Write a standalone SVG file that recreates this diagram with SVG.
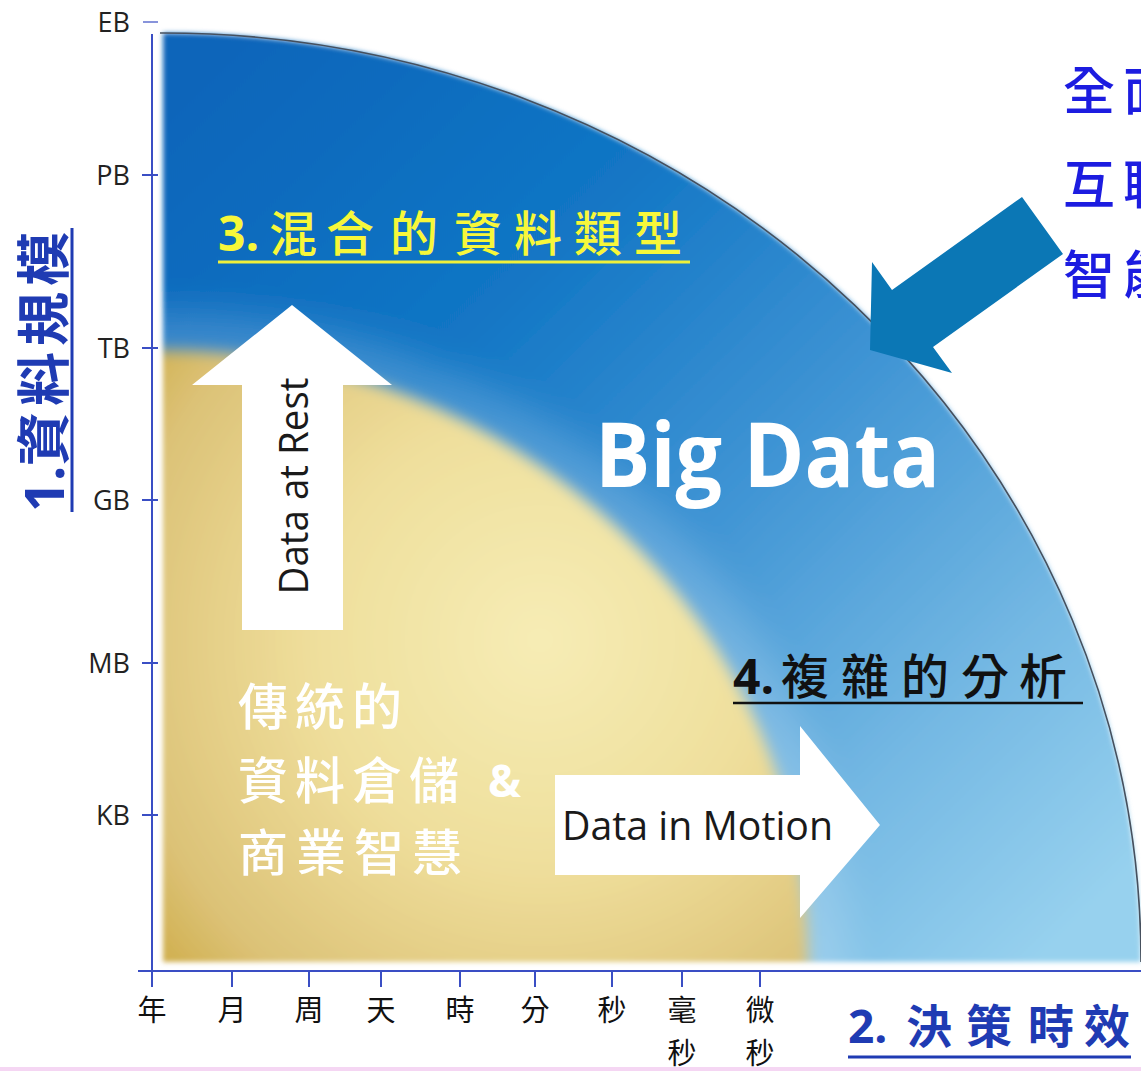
<svg xmlns="http://www.w3.org/2000/svg" width="1141" height="1071" viewBox="0 0 1141 1071">
<style>
.ax{stroke:#3a4ec4;stroke-width:2;fill:none}
.tk{stroke:#3a4ec4;stroke-width:2}
.yl{font-family:"Open Sans","Liberation Sans",sans-serif;font-size:27px;fill:#222;text-anchor:end}
.xl{font-family:"Noto Sans CJK TC","Noto Sans CJK SC",sans-serif;font-size:29px;fill:#111;text-anchor:middle}
.cjk{font-family:"Noto Sans CJK TC","Noto Sans CJK SC",sans-serif}
.num{font-family:"Open Sans","Liberation Sans",sans-serif;font-weight:bold}
.en{font-family:"Open Sans","Liberation Sans",sans-serif}
</style>
<defs>
<linearGradient id="blueG" gradientUnits="userSpaceOnUse" x1="200" y1="80" x2="1050" y2="950">
<stop offset="0" stop-color="#0865ba"/>
<stop offset="0.3" stop-color="#1276c5"/>
<stop offset="0.55" stop-color="#3f94d4"/>
<stop offset="0.8" stop-color="#74b8e3"/>
<stop offset="1" stop-color="#97d1ee"/>
</linearGradient>
<radialGradient id="goldG" gradientUnits="userSpaceOnUse" cx="540" cy="640" r="560">
<stop offset="0" stop-color="#f6ecb5"/>
<stop offset="0.4" stop-color="#efdf9c"/>
<stop offset="0.75" stop-color="#dcc277"/>
<stop offset="1" stop-color="#c69f2c"/>
</radialGradient>
<clipPath id="regionClip">
<path d="M163,962 L163,33 A978,929 0 0 1 1141,962 Z"/>
</clipPath>
<filter id="softEdge" x="-5%" y="-5%" width="110%" height="110%">
<feGaussianBlur stdDeviation="2.5"/>
</filter>
<filter id="bigBlur" x="-20%" y="-20%" width="140%" height="140%">
<feGaussianBlur stdDeviation="7"/>
</filter>
<filter id="haloBlur" x="-20%" y="-20%" width="140%" height="140%">
<feGaussianBlur stdDeviation="20"/>
</filter>
</defs>

<rect x="0" y="0" width="1141" height="1071" fill="#ffffff"/>

<g id="region" filter="url(#softEdge)">
<g clip-path="url(#regionClip)">
<rect x="150" y="20" width="1000" height="960" fill="url(#blueG)"/>
<ellipse cx="163" cy="962" rx="685" ry="650" fill="#ffffff" opacity="0.2" filter="url(#haloBlur)"/>
<ellipse cx="163" cy="962" rx="645" ry="612" fill="url(#goldG)" filter="url(#bigBlur)"/>
</g>
</g>
<path id="region-outline" d="M160,33 L163,33 A978,929 0 0 1 1141,962" fill="none" stroke="#46505e" stroke-width="1.6"/>

<g id="axes">
<line class="ax" x1="152" y1="34" x2="152" y2="987"/>
<line class="ax" x1="138" y1="971" x2="1141" y2="971"/>
<line class="tk" x1="143" y1="22" x2="158" y2="22" opacity="0.6"/>
<line class="tk" x1="142" y1="175" x2="158" y2="175"/>
<line class="tk" x1="142" y1="348" x2="158" y2="348"/>
<line class="tk" x1="142" y1="500" x2="158" y2="500"/>
<line class="tk" x1="142" y1="663" x2="158" y2="663"/>
<line class="tk" x1="142" y1="815" x2="158" y2="815"/>
<line class="tk" x1="232" y1="971" x2="232" y2="987"/>
<line class="tk" x1="309" y1="971" x2="309" y2="987"/>
<line class="tk" x1="381" y1="971" x2="381" y2="987"/>
<line class="tk" x1="460" y1="971" x2="460" y2="987"/>
<line class="tk" x1="535" y1="971" x2="535" y2="987"/>
<line class="tk" x1="612" y1="971" x2="612" y2="987"/>
<line class="tk" x1="682" y1="971" x2="682" y2="987"/>
<line class="tk" x1="760" y1="971" x2="760" y2="987"/>
</g>

<g id="y-labels">
<text class="yl" x="130" y="32">EB</text>
<text class="yl" x="130" y="185">PB</text>
<text class="yl" x="130" y="358">TB</text>
<text class="yl" x="130" y="510">GB</text>
<text class="yl" x="130" y="673">MB</text>
<text class="yl" x="130" y="825">KB</text>
</g>

<g id="x-labels">
<text class="xl" x="152" y="1021">年</text>
<text class="xl" x="232" y="1021">月</text>
<text class="xl" x="309" y="1021">周</text>
<text class="xl" x="381" y="1021">天</text>
<text class="xl" x="460" y="1021">時</text>
<text class="xl" x="535" y="1021">分</text>
<text class="xl" x="612" y="1021">秒</text>
<text class="xl" x="682" y="1021">毫</text>
<text class="xl" x="682" y="1064">秒</text>
<text class="xl" x="760" y="1021">微</text>
<text class="xl" x="760" y="1064">秒</text>
</g>

<g id="axis-title-y">
<g transform="translate(64,512) rotate(-90)" fill="#1f3bb3">
<text class="num" x="0" y="0" font-size="54">1.</text>
<text class="cjk" y="0" font-size="54" font-weight="bold" x="46 106 166 226">資料規模</text>
</g>
<line x1="72" y1="228" x2="72" y2="512" stroke="#1f3bb3" stroke-width="3"/>
</g>

<g id="axis-title-x" fill="#1f3bb3">
<text class="num" x="848" y="1043" font-size="46">2.</text>
<text class="cjk" y="1043" font-size="46" font-weight="bold" x="906 966 1028 1084">決策時效</text>
<line x1="848" y1="1057" x2="1131" y2="1057" stroke="#1f3bb3" stroke-width="3"/>
</g>

<g id="mixed-types" fill="#f7f73a">
<text class="num" x="218" y="251" font-size="48">3.</text>
<text class="cjk" y="251" font-size="48" font-weight="500" x="269 326 390 454 514 574 634">混合的資料類型</text>
<line x1="218" y1="262" x2="690" y2="262" stroke="#f0f03a" stroke-width="3"/>
</g>

<g id="complex-analysis" fill="#111111">
<text class="num" x="733" y="694" font-size="48">4.</text>
<text class="cjk" y="694" font-size="48" font-weight="500" x="781 841 901 961 1019">複雜的分析</text>
<line x1="733" y1="703" x2="1083" y2="703" stroke="#111" stroke-width="2.5"/>
</g>

<g id="big-data">
<text class="en" x="595" y="487" font-size="90" font-weight="bold" fill="#ffffff" textLength="345" lengthAdjust="spacingAndGlyphs">Big Data</text>
</g>

<g id="traditional" fill="#ffffff">
<text class="cjk" y="725" font-size="50" font-weight="500" x="238 295 352">傳統的</text>
<text class="cjk" y="799" font-size="50" font-weight="500" x="238 295 352 409">資料倉儲</text>
<text class="num" x="488" y="797" font-size="44">&amp;</text>
<text class="cjk" y="871" font-size="50" font-weight="500" x="238 296 354 412">商業智慧</text>
</g>

<g id="data-at-rest">
<polygon points="292,305 392,385 343,385 343,630 242,630 242,385 192,385" fill="#ffffff"/>
<text class="en" transform="translate(308,486) rotate(-90)" x="0" y="0" font-size="40" fill="#1a1a1a" text-anchor="middle" textLength="217" lengthAdjust="spacingAndGlyphs">Data at Rest</text>
</g>

<g id="data-in-motion">
<polygon points="555,775 800,775 800,726 880,825 800,918 800,875 555,875" fill="#ffffff"/>
<text class="en" x="562" y="840" font-size="40" fill="#1a1a1a" textLength="271" lengthAdjust="spacingAndGlyphs">Data in Motion</text>
</g>

<g id="connectors">
<polygon points="870,350 872,262 892,290 1022,197 1063,254 933,347 952,373" fill="#0b77b5"/>
</g>

<g id="iot-text" fill="#1c1ce0">
<text class="cjk" y="110" font-size="52" font-weight="500" x="1063 1123">全面</text>
<text class="cjk" y="204" font-size="52" font-weight="500" x="1063 1123">互聯</text>
<text class="cjk" y="294" font-size="52" font-weight="500" x="1063 1123">智能</text>
</g>

<rect x="0" y="1067" width="1141" height="4" fill="#f5d6f3"/>
</svg>
